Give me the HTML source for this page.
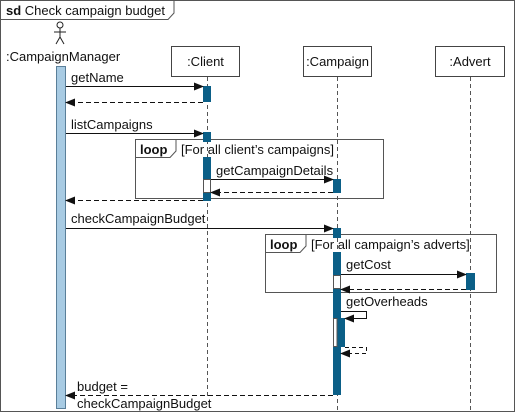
<!DOCTYPE html>
<html><head><style>
html,body{margin:0;padding:0;background:#fff;}
svg text{font-family:"Liberation Sans",sans-serif;font-size:13px;fill:#111;}
</style></head><body>
<svg width="516" height="413" viewBox="0 0 516 413" xmlns="http://www.w3.org/2000/svg">
<defs>
<marker id="a" markerWidth="10" markerHeight="8" refX="9" refY="4" orient="auto" markerUnits="userSpaceOnUse"><path d="M0,0 L10,4 L0,8 Z" fill="#111"/></marker>
</defs>
<rect x="0.5" y="0.5" width="514" height="411" fill="#fff" stroke="#555"/>
<path d="M0.5,19.5 H168 L174,13 V0.5" fill="none" stroke="#555"/>
<text x="6" y="15"><tspan font-weight="bold">sd</tspan> Check campaign budget</text>

<!-- actor -->
<g stroke="#222" fill="none" stroke-width="1">
<circle cx="60" cy="25" r="3"/>
<line x1="60" y1="28" x2="60" y2="37"/><line x1="54" y1="32" x2="66" y2="32"/>
<line x1="60" y1="37" x2="56" y2="44"/><line x1="60" y1="37" x2="64" y2="44"/>
</g>
<text x="6" y="61">:CampaignManager</text>

<!-- heads -->
<rect x="171.5" y="46.5" width="68" height="30" fill="#fff" stroke="#444"/>
<text x="205.5" y="66" text-anchor="middle">:Client</text>
<rect x="303.5" y="46.5" width="68" height="30" fill="#fff" stroke="#444"/>
<text x="337.5" y="66" text-anchor="middle">:Campaign</text>
<rect x="435.5" y="46.5" width="69" height="30" fill="#fff" stroke="#444"/>
<text x="470" y="66" text-anchor="middle">:Advert</text>

<!-- lifelines -->
<g stroke="#555" stroke-dasharray="4,3">
<line x1="207.5" y1="77" x2="207.5" y2="396"/>
<line x1="337.5" y1="77" x2="337.5" y2="410"/>
<line x1="470.5" y1="77" x2="470.5" y2="410"/>
</g>

<!-- loops -->
<rect x="135.5" y="139.5" width="248" height="59" fill="none" stroke="#555"/>
<path d="M135.5,157.5 H170 L176,151 V139.5" fill="none" stroke="#555"/>
<text x="140" y="154" font-weight="bold">loop</text>
<text x="181" y="154">[For all client’s campaigns]</text>
<rect x="265.5" y="234.5" width="231" height="58" fill="none" stroke="#555"/>
<path d="M265.5,252.5 H300 L306,246 V234.5" fill="none" stroke="#555"/>
<text x="270" y="249" font-weight="bold">loop</text>
<text x="311" y="249">[For all campaign’s adverts]</text>

<!-- CM bar -->
<rect x="56.5" y="66.5" width="9" height="342" fill="#a8cbe3" stroke="#5a7f99"/>

<!-- client bars -->
<g fill="#0b5f87">
<rect x="203" y="86" width="8" height="16"/>
<rect x="203" y="132" width="8" height="10"/>
<rect x="203" y="157" width="8" height="22"/>
<rect x="203" y="193" width="8" height="8"/>
<rect x="333" y="179" width="8" height="14"/>
<rect x="333" y="228" width="8" height="10"/>
<rect x="333" y="252" width="8" height="23"/>
<rect x="333" y="289" width="8" height="29"/>
<rect x="333" y="347" width="8" height="48"/>
<rect x="337" y="318" width="8" height="29"/>
<rect x="466" y="273" width="9" height="17"/>
</g>
<rect x="203.5" y="179.5" width="7" height="13" fill="#fff" stroke="#555"/>
<rect x="333.5" y="275.5" width="7" height="13" fill="#fff" stroke="#555"/>
<rect x="333.5" y="318.5" width="3.5" height="28" fill="#fff" stroke="#555"/>

<!-- messages -->
<g stroke="#111" fill="none">
<line x1="66" y1="86.5" x2="203" y2="86.5" marker-end="url(#a)"/>
<line x1="203" y1="102.5" x2="66" y2="102.5" stroke-dasharray="5,3" marker-end="url(#a)"/>
<line x1="66" y1="133.5" x2="203" y2="133.5" marker-end="url(#a)"/>
<line x1="211" y1="179.5" x2="333" y2="179.5" marker-end="url(#a)"/>
<line x1="333" y1="192.5" x2="211" y2="192.5" stroke-dasharray="5,3" marker-end="url(#a)"/>
<line x1="203" y1="200.5" x2="66" y2="200.5" stroke-dasharray="5,3" marker-end="url(#a)"/>
<line x1="66" y1="228.5" x2="333" y2="228.5" marker-end="url(#a)"/>
<line x1="341" y1="274.5" x2="466" y2="274.5" marker-end="url(#a)"/>
<line x1="466" y1="289.5" x2="341" y2="289.5" stroke-dasharray="5,3" marker-end="url(#a)"/>
<path d="M341,311.5 H366.5 V318.5 H345" marker-end="url(#a)"/>
<path d="M345,347.5 H366.5 V353.5 H341" stroke-dasharray="4,3" marker-end="url(#a)"/>
<line x1="333" y1="395.5" x2="66" y2="395.5" stroke-dasharray="5,3" marker-end="url(#a)"/>
</g>

<text x="71" y="82">getName</text>
<text x="71" y="129">listCampaigns</text>
<text x="216" y="175">getCampaignDetails</text>
<text x="71" y="223">checkCampaignBudget</text>
<text x="346" y="269">getCost</text>
<text x="346" y="306">getOverheads</text>
<text x="77" y="391">budget =</text>
<text x="77" y="408">checkCampaignBudget</text>
</svg>
</body></html>
